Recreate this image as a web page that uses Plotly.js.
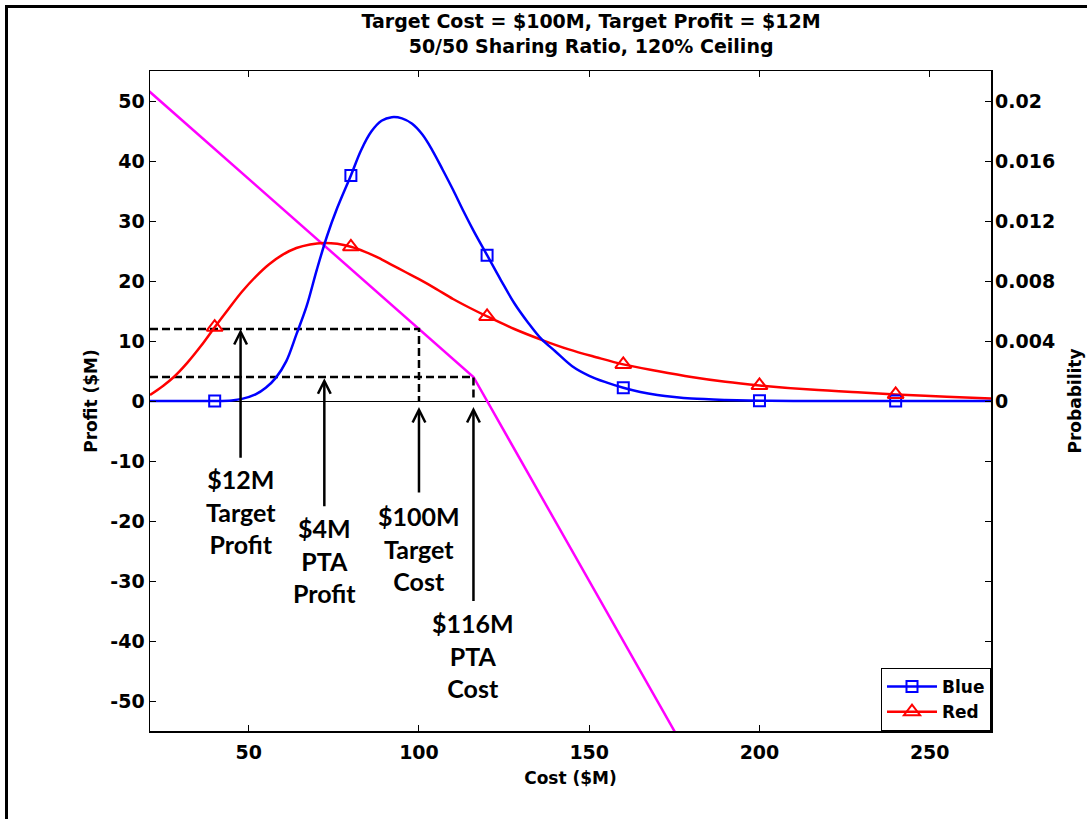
<!DOCTYPE html>
<html>
<head>
<meta charset="utf-8">
<script src="https://cdn.plot.ly/plotly-3.0.1.min.js"></script>
<style>
  html, body { margin: 0; padding: 0; background: #fff; overflow: hidden; }
  #chart { position: absolute; left: 0; top: 0; width: 1087px; height: 819px; }
  #frame { position: absolute; left: 5px; top: 5px; width: 1082px; height: 814px;
           border-left: 3px solid #000; border-top: 3px solid #000; pointer-events: none; box-sizing: border-box; }
</style>
</head>
<body>
<div id="chart"></div>
<div id="frame"></div>
<script>
// ---------------- data ----------------
const titleLines = ["Target Cost = $100M, Target Profit = $12M", "50/50 Sharing Ratio, 120% Ceiling"];

// Cost axis ($M)
const xRange = [21, 268];
const xTicks = [50, 100, 150, 200, 250];

// Profit axis ($M)
const yRange = [-55, 55];
const yTicks = [-50, -40, -30, -20, -10, 0, 10, 20, 30, 40, 50];
const yTickText = ["-50", "-40", "-30", "-20", "-10", "0", "10", "20", "30", "40", "50"];

// Probability axis
const y2Range = [-0.022, 0.022];
const y2Ticks = [0, 0.004, 0.008, 0.012, 0.016, 0.02];
const y2TickText = ["0", "0.004", "0.008", "0.012", "0.016", "0.02"];

// Profit function (magenta)
const profitCost = [20, 116, 180];
const profitValue = [52, 4, -60];

// Contract parameters (dashed guides)
const targetCost = 100, targetProfit = 12;
const ptaCost = 116, ptaProfit = 4;

// Blue probability density
const blueCost = [21, 30, 40, 45, 48, 52, 55, 58, 61, 64, 67, 70, 73, 76, 80, 83, 86, 89, 92, 95, 98, 101, 104, 107, 110, 113, 116, 120, 124, 128, 132, 136, 140, 145, 150, 155, 160, 165, 170, 175, 180, 190, 200, 210, 240, 268];
const blueProb = [0, 0, 0, 0.00004, 0.00014, 0.00044, 0.00088, 0.00156, 0.00264, 0.00444, 0.00632, 0.00876, 0.0110, 0.01288, 0.01504, 0.01672, 0.01796, 0.01868, 0.01892, 0.01884, 0.01848, 0.01776, 0.01668, 0.0154, 0.01408, 0.01268, 0.01136, 0.00972, 0.00808, 0.00652, 0.00524, 0.00412, 0.00332, 0.00232, 0.00168, 0.00124, 0.00088, 0.0006, 0.0004, 0.00026, 0.00016, 0.00007, 0.00002, 0, 0, 0];

// Red probability density
const redCost = [21, 25, 28, 32, 36, 40, 44, 48, 52, 56, 60, 64, 68, 72, 76, 80, 84, 88, 92, 96, 100, 105, 110, 115, 120, 128, 136, 144, 152, 160, 170, 180, 190, 200, 215, 230, 240, 255, 268];
const redProb = [0.0004, 0.00104, 0.0016, 0.00256, 0.00368, 0.00492, 0.00612, 0.00728, 0.00828, 0.00912, 0.00976, 0.0102, 0.01044, 0.01054, 0.01048, 0.01028, 0.00996, 0.00956, 0.00908, 0.0086, 0.00812, 0.00748, 0.0068, 0.0062, 0.00564, 0.0048, 0.00408, 0.00344, 0.00292, 0.00244, 0.002, 0.0016, 0.00128, 0.00104, 0.00076, 0.00056, 0.00044, 0.00028, 0.00016];

// Marker positions
const markerCosts = [40, 80, 120, 160, 200, 240];

// Annotation labels
const labelTexts = ["$12M<br>Target<br>Profit", "$4M<br>PTA<br>Profit", "$100M<br>Target<br>Cost", "$116M<br>PTA<br>Cost"];
const labelX = [47.6, 72.2, 100, 116];
const arrowTipY = [12, 3.8, -1, -1];
const arrowTailY = [-9.7, -17.8, -15.5, -33.6];
const labelY = [-18.4, -26.6, -24.6, -42.4];

// ---------------- build ----------------
const AX_FONT = "'DejaVu Sans', sans-serif";
const LBL_FONT = "Lato, 'Noto Sans', sans-serif";

function markerSeries(costs, vals) {
  const xs = [], ys = [];
  markerCosts.forEach(c => {
    const i = costs.indexOf(c);
    xs.push(c, c);
    ys.push(vals[i], null);
  });
  return {xs, ys};
}
const bm = markerSeries(blueCost, blueProb);
const rm = markerSeries(redCost, redProb);

const xMin = xRange[0];

const traces = [
  { x: profitCost, y: profitValue, mode: 'lines', line: {color: '#ff00ff', width: 2.5}, showlegend: false, hoverinfo: 'skip' },
  { x: [xMin, targetCost, targetCost], y: [targetProfit, targetProfit, 0], mode: 'lines',
    line: {color: '#000', width: 2.5, dash: '8px,4px'}, showlegend: false, hoverinfo: 'skip' },
  { x: [xMin, ptaCost, ptaCost], y: [ptaProfit, ptaProfit, 0], mode: 'lines',
    line: {color: '#000', width: 2.5, dash: '8px,4px'}, showlegend: false, hoverinfo: 'skip' },
  { x: redCost, y: redProb, yaxis: 'y2', mode: 'lines', line: {color: '#ff0000', width: 2.5, shape: 'spline', smoothing: 1}, showlegend: false, hoverinfo: 'skip' },
  { x: blueCost, y: blueProb, yaxis: 'y2', mode: 'lines', line: {color: '#0000ff', width: 2.5, shape: 'spline', smoothing: 1}, showlegend: false, hoverinfo: 'skip' },
  { x: bm.xs, y: bm.ys, yaxis: 'y2', mode: 'lines+markers', name: 'Blue', connectgaps: false,
    line: {color: '#0000ff', width: 2.5},
    marker: {symbol: 'square-open', size: 11, color: '#0000ff', line: {width: 2, color: '#0000ff'}} },
  { x: rm.xs, y: rm.ys, yaxis: 'y2', mode: 'lines+markers', name: 'Red', connectgaps: false,
    line: {color: '#ff0000', width: 2.5},
    marker: {symbol: 'triangle-up-open', size: 14, color: '#ff0000', line: {width: 2, color: '#ff0000'}} }
];

const annotations = [];
labelX.forEach((x, i) => {
  annotations.push({
    x: x, y: arrowTipY[i], xref: 'x', yref: 'y',
    ax: x, ay: arrowTailY[i], axref: 'x', ayref: 'y',
    text: '', showarrow: true, arrowhead: 5, arrowsize: 1, arrowwidth: 2.5, arrowcolor: '#000', standoff: 0, startstandoff: 0
  });
  annotations.push({
    x: x, y: labelY[i], xref: 'x', yref: 'y', text: '<b>' + labelTexts[i].split('<br>').join('</b><br><b>') + '</b>',
    showarrow: false, xanchor: 'center', yanchor: 'middle', align: 'center',
    font: {family: LBL_FONT, size: 25, color: '#000', weight: 700}
  });
});

const layout = {
  width: 1087, height: 819,
  margin: {l: 150, r: 96, t: 71, b: 88, pad: 0},
  paper_bgcolor: '#fff', plot_bgcolor: '#fff',
  font: {family: AX_FONT, color: '#000', size: 18, weight: 700},
  title: {
    text: '<b>' + titleLines[0] + '</b><br><b>' + titleLines[1] + '</b>',
    font: {family: AX_FONT, size: 19, color: '#000', weight: 700},
    x: 0.5245, xanchor: 'center', xref: 'paper',
    y: 1 - 28 / 819, yanchor: 'middle', yref: 'container'
  },
  xaxis: {
    range: xRange, tickvals: xTicks, ticks: 'inside', ticklen: 6, tickwidth: 1, tickcolor: '#000',
    showline: true, linecolor: '#000', linewidth: 1.5, mirror: 'ticks', showgrid: false, zeroline: false,
    tickfont: {family: AX_FONT, size: 19, weight: 700}, ticklabelstandoff: 4,
    title: {text: '<b>Cost ($M)</b>', font: {family: AX_FONT, size: 17, weight: 700}, standoff: 10}
  },
  yaxis: {
    range: yRange, tickvals: yTicks, ticktext: yTickText, ticks: 'inside', ticklen: 6, tickwidth: 1, tickcolor: '#000',
    showline: true, linecolor: '#000', linewidth: 1.5, mirror: 'ticks', showgrid: false,
    zeroline: true, zerolinecolor: '#000', zerolinewidth: 1,
    tickfont: {family: AX_FONT, size: 19, weight: 700},
    title: {text: '<b>Profit ($M)</b>', font: {family: AX_FONT, size: 17, weight: 700}, standoff: 8}
  },
  yaxis2: {
    overlaying: 'y', side: 'right', range: y2Range, tickvals: y2Ticks, ticktext: y2TickText,
    ticks: 'inside', ticklen: 6, tickwidth: 1, tickcolor: '#000',
    showline: false, showgrid: false, zeroline: false,
    tickfont: {family: AX_FONT, size: 19, weight: 700}, ticklabelstandoff: 3,
    title: {text: '<b>Probability</b>', font: {family: AX_FONT, size: 17, weight: 700}, standoff: 14}
  },
  legend: {
    x: 1, y: 0, xanchor: 'right', yanchor: 'bottom', xref: 'paper', yref: 'paper',
    bgcolor: '#fff', bordercolor: '#000', borderwidth: 1,
    font: {family: AX_FONT, size: 17, color: '#000', weight: 700},
    itemwidth: 50, tracegroupgap: 0
  },
  annotations: annotations,
  showlegend: true
};

Plotly.newPlot('chart', traces, layout, {staticPlot: true, displayModeBar: false});
</script>
</body>
</html>
